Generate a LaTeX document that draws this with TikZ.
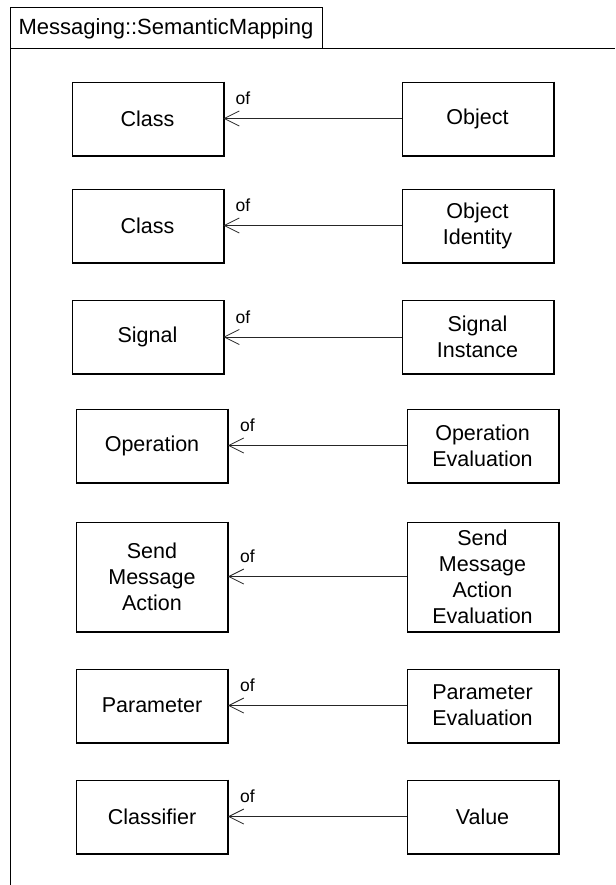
\documentclass[tikz,border=0pt]{standalone}
\usepackage{fontspec}
\setmainfont{Liberation Sans}
\usetikzlibrary{arrows.meta}
\begin{document}
\begin{tikzpicture}[x=1pt,y=-1pt,
  box/.style={draw, line width=0.9pt, minimum width=151pt, inner sep=0pt, align=center,
    font=\fontsize{21.5}{26}\selectfont},
  ofl/.style={font=\fontsize{17.5}{20}\selectfont, anchor=base west, inner sep=0pt},
  conn/.style={line width=0.8pt, draw=black!85, -{Straight Barb[length=15pt,width=15pt,line width=0.8pt]}},
  frameline/.style={line width=1pt}]
\useasboundingbox (0,0) rectangle (615,885);
% package frame
\draw[frameline] (10,885) -- (10,8) -- (322,8) -- (322,49);
\draw[frameline] (10,49) -- (615,49);
\node[font=\fontsize{22}{26}\selectfont, inner sep=0pt] (title) at (166,29) {Messaging::SemanticMapping};
% row 1
\node[box, minimum height=73pt] (c1) at (147.5,118.5) {Class};
\node[box, minimum height=73pt] (o1) at (477.5,118.5) {Object};
% row 2
\node[box, minimum height=73pt] (c2) at (147.5,225.5) {Class};
\node[box, minimum height=73pt] (o2) at (477.5,225.5) {Object\\Identity};
% row 3
\node[box, minimum height=73pt] (c3) at (147.5,337) {Signal};
\node[box, minimum height=73pt] (o3) at (477.5,337) {Signal\\Instance};
% row 4
\node[box, minimum height=73pt] (c4) at (152,445.5) {Operation};
\node[box, minimum height=73pt] (o4) at (482.5,445.5) {Operation\\Evaluation};
% row 5
\node[box, minimum height=109pt] (c5) at (152,576.5) {Send\\Message\\Action};
\node[box, minimum height=109pt] (o5) at (482.5,576.5) {Send\\Message\\Action\\Evaluation};
% row 6
\node[box, minimum height=73pt] (c6) at (152,705.5) {Parameter};
\node[box, minimum height=73pt] (o6) at (482.5,705.5) {Parameter\\Evaluation};
% row 7
\node[box, minimum height=73pt] (c7) at (152,816.5) {Classifier};
\node[box, minimum height=73pt] (o7) at (482.5,816.5) {Value};
% shadows, connectors and labels
\foreach \i in {1,...,7}{
  \foreach \n in {c\i,o\i}{
    \draw[line width=1pt] ([shift={(1,0)}]\n.north east) -- ([shift={(1,1)}]\n.south east) -- ([shift={(0,1)}]\n.south west);
  }
  \draw[conn] (o\i.west) -- (c\i.east);
  \node[ofl] (of\i) at ([shift={(12,-14)}]c\i.east) {of};
}
\end{tikzpicture}
\end{document}
